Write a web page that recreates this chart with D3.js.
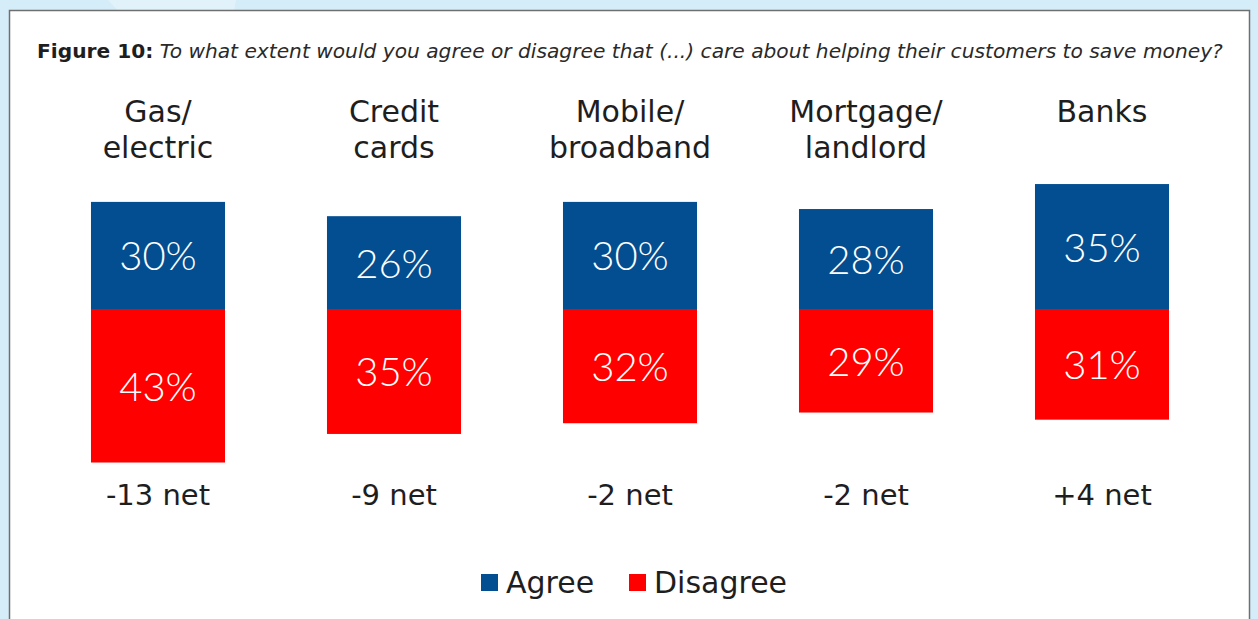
<!DOCTYPE html>
<html>
<head>
<meta charset="utf-8">
<script src="https://cdn.jsdelivr.net/npm/d3@7"></script>
<style>
  html, body { margin: 0; padding: 0; background: #d5ecf9; }
  svg { display: block; }
</style>
</head>
<body>
<svg id="chart" width="1258" height="619"></svg>
<script>
// Survey results: share agreeing / disagreeing that each provider type
// cares about helping its customers save money.
const categories = [
  ["Gas/", "electric"],
  ["Credit", "cards"],
  ["Mobile/", "broadband"],
  ["Mortgage/", "landlord"],
  ["Banks"]
];
const agree    = [30, 26, 30, 28, 35];
const disagree = [43, 35, 32, 29, 31];
const netLabels = ["-13 net", "-9 net", "-2 net", "-2 net", "+4 net"];
const seriesNames = ["Agree", "Disagree"];
const seriesColors = ["#024e91", "#ff0000"];

const titleBold = "Figure 10:";
const titleRest = " To what extent would you agree or disagree that (...) care about helping their customers to save money?";

const svg = d3.select("#chart");
const W = 1258, H = 619;

// page background with a soft lighter streak at the top
svg.append("rect").attr("width", W).attr("height", H).attr("fill", "#d5ecf9");
svg.append("path")
  .attr("d", "M108,0 L236,0 L234,11 L118,11 Z")
  .attr("fill", "#e2f2fb");

// white panel
svg.append("rect")
  .attr("x", 9.5).attr("y", 10.5)
  .attr("width", 1240).attr("height", 700)
  .attr("fill", "#ffffff")
  .attr("stroke", "#6f6f6f")
  .attr("stroke-width", 1.5);

// title
const title = svg.append("text")
  .attr("x", 37).attr("y", 58)
  .attr("font-family", "DejaVu Sans")
  .attr("font-size", 20.2)
  .attr("fill", "#1e1e1e");
title.append("tspan").attr("font-weight", "bold").text(titleBold);
title.append("tspan").attr("font-style", "italic").attr("fill", "#2a2a2a").text(titleRest);

// scales
const x = d3.scaleBand()
  .domain(d3.range(categories.length))
  .range([40, 1220])
  .paddingInner(0.432)
  .paddingOuter(0.216);

const pxPerPct = 3.57;
const baseY = 309;
const y = d3.scaleLinear()
  .domain([-50, 50])
  .range([baseY + 50 * pxPerPct, baseY - 50 * pxPerPct]);

const data = categories.map((c, i) => ({
  i, label: c, agree: agree[i], disagree: disagree[i], net: netLabels[i]
}));

const g = svg.append("g");

// agree segments (above the baseline)
g.selectAll("rect.agree").data(data).join("rect")
  .attr("class", "agree")
  .attr("x", d => x(d.i))
  .attr("width", x.bandwidth())
  .attr("y", d => y(d.agree))
  .attr("height", d => y(0) - y(d.agree))
  .attr("fill", seriesColors[0]);

// disagree segments (below the baseline)
g.selectAll("rect.disagree").data(data).join("rect")
  .attr("class", "disagree")
  .attr("x", d => x(d.i))
  .attr("width", x.bandwidth())
  .attr("y", y(0))
  .attr("height", d => y(-d.disagree) - y(0))
  .attr("fill", seriesColors[1]);

// value labels inside segments
const pctFont = { family: "Lato", size: 40, weight: 300 };
g.selectAll("text.agreeLbl").data(data).join("text")
  .attr("class", "agreeLbl")
  .attr("x", d => x(d.i) + x.bandwidth() / 2)
  .attr("y", d => (y(d.agree) + y(0)) / 2 + 15)
  .attr("text-anchor", "middle")
  .attr("font-family", pctFont.family)
  .attr("font-weight", pctFont.weight)
  .attr("font-size", pctFont.size)
  .attr("fill", "#ffffff")
  .text(d => d.agree + "%");

g.selectAll("text.disLbl").data(data).join("text")
  .attr("class", "disLbl")
  .attr("x", d => x(d.i) + x.bandwidth() / 2)
  .attr("y", d => (y(0) + y(-d.disagree)) / 2 + 15)
  .attr("text-anchor", "middle")
  .attr("font-family", pctFont.family)
  .attr("font-weight", pctFont.weight)
  .attr("font-size", pctFont.size)
  .attr("fill", "#ffffff")
  .text(d => d.disagree + "%");

// category headers
const cat = g.selectAll("text.cat").data(data).join("text")
  .attr("class", "cat")
  .attr("x", d => x(d.i) + x.bandwidth() / 2)
  .attr("y", 122)
  .attr("text-anchor", "middle")
  .attr("font-family", "DejaVu Sans")
  .attr("font-size", 30)
  .attr("fill", "#1e1e1e");
cat.selectAll("tspan").data(d => d.label).join("tspan")
  .attr("x", function() { return d3.select(this.parentNode).attr("x"); })
  .attr("dy", (d, k) => k === 0 ? 0 : 36)
  .text(d => d);

// net labels
g.selectAll("text.net").data(data).join("text")
  .attr("class", "net")
  .attr("x", d => x(d.i) + x.bandwidth() / 2)
  .attr("y", 505)
  .attr("text-anchor", "middle")
  .attr("font-family", "DejaVu Sans")
  .attr("font-size", 29)
  .attr("fill", "#1e1e1e")
  .text(d => d.net);

// legend
const legendItems = [
  { name: seriesNames[0], color: seriesColors[0], x: 481 },
  { name: seriesNames[1], color: seriesColors[1], x: 629 }
];
const lg = svg.append("g").selectAll("g").data(legendItems).join("g")
  .attr("transform", d => `translate(${d.x},574)`);
lg.append("rect").attr("width", 17).attr("height", 17).attr("fill", d => d.color);
lg.append("text")
  .attr("x", 25).attr("y", 19)
  .attr("font-family", "DejaVu Sans")
  .attr("font-size", 30)
  .attr("fill", "#1e1e1e")
  .text(d => d.name);
</script>
</body>
</html>
